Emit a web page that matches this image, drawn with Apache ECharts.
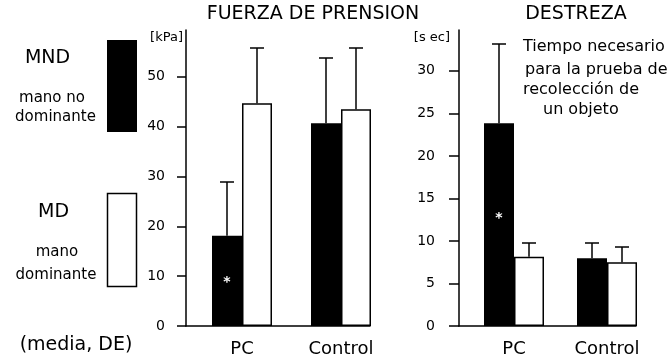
<!DOCTYPE html>
<html>
<head>
<meta charset="utf-8">
<script src="https://cdn.jsdelivr.net/npm/echarts@6/dist/echarts.min.js"></script>
<style>html,body{margin:0;padding:0;background:#fff}#c{width:672px;height:364px}</style>
</head>
<body>
<div id="c"></div>
<script>
// ---- data ----
const categories = ['PC', 'Control'];
// Fuerza de prensión [kPa] (media, DE)
const gripMND = [18.1, 40.7];
const gripMNDsd = [10.7, 13.1];
const gripMD = [44.7, 43.5];
const gripMDsd = [11.1, 12.3];
// Destreza [sec] (media, DE)
const dexMND = [23.85, 7.96];
const dexMNDsd = [9.35, 1.77];
const dexMD = [8.15, 7.49];
const dexMDsd = [1.58, 1.77];
// tick labels
const gripTicks = [0, 10, 20, 30, 40, 50];
const dexTicks = [0, 5, 10, 15, 20, 25, 30];
// significance marks (on MND PC bars)
const starGrip = '*';
const starDex = '*';

const FONT = 'DejaVu Sans';
const chart = echarts.init(document.getElementById('c'), null, {renderer: 'canvas'});

function errSeries(xi, yi, means, sds, side) {
  return {
    type: 'custom', xAxisIndex: xi, yAxisIndex: yi, z: 5, silent: true,
    data: means.map((m, i) => [i, m, m + sds[i]]),
    renderItem(params, api) {
      const b = api.coord([api.value(0), api.value(1)]);
      const t = api.coord([api.value(0), api.value(2)]);
      const x = Math.round(b[0] + side * 15);
      const ty = Math.round(t[1]);
      return {
        type: 'group',
        children: [
          {type: 'line', shape: {x1: x, y1: b[1], x2: x, y2: ty}, style: {stroke: '#000', lineWidth: 1.5}},
          {type: 'line', shape: {x1: x - 7, y1: ty, x2: x + 7, y2: ty}, style: {stroke: '#000', lineWidth: 1.5}}
        ]
      };
    }
  };
}

function starItem(v, txt, off) {
  return {value: v, label: {show: true, formatter: txt, position: 'inside', color: '#fff',
    fontFamily: FONT, fontSize: 14, fontWeight: 'bold', offset: off}};
}

const axisLineStyle = {show: true, lineStyle: {color: '#000', width: 1.5}};
function valueAxisFrame(grid, max, ticks, tickLen, margin, name, namePad) {
  return {
    type: 'value', gridIndex: grid, min: 0, max: max,
    axisLine: axisLineStyle,
    axisTick: {show: true, inside: false, length: tickLen, customValues: ticks, lineStyle: {color: '#000', width: 1.5}},
    axisLabel: {show: true, customValues: ticks, margin: margin, color: '#000', fontFamily: FONT, fontSize: 14},
    splitLine: {show: false},
    name: name, nameLocation: 'end', nameGap: -8,
    nameTextStyle: {fontFamily: FONT, fontSize: 13, color: '#000', align: 'right', verticalAlign: 'middle', padding: namePad}
  };
}
function hiddenValueAxis(grid, max) {
  return {type: 'value', gridIndex: grid, min: 0, max: max, show: false, splitLine: {show: false}};
}

const option = {
  animation: false,
  backgroundColor: '#fff',
  grid: [
    {left: 186, top: 30, width: 184, height: 296},   // frame grip
    {left: 192.5, top: 30, width: 198, height: 296}, // bars grip
    {left: 459, top: 30, width: 177, height: 296},   // frame dex
    {left: 467.5, top: 30, width: 186, height: 296}  // bars dex
  ],
  xAxis: [
    {type: 'category', gridIndex: 0, data: [''], axisLine: axisLineStyle, axisTick: {show: false}, axisLabel: {show: false}},
    {type: 'category', gridIndex: 1, data: categories, axisLine: {show: false}, axisTick: {show: false},
      axisLabel: {color: '#000', fontFamily: FONT, fontSize: 18, lineHeight: 18, margin: 14}},
    {type: 'category', gridIndex: 2, data: [''], axisLine: axisLineStyle, axisTick: {show: false}, axisLabel: {show: false}},
    {type: 'category', gridIndex: 3, data: categories, axisLine: {show: false}, axisTick: {show: false},
      axisLabel: {color: '#000', fontFamily: FONT, fontSize: 18, lineHeight: 18, margin: 14}}
  ],
  yAxis: [
    valueAxisFrame(0, 59.4, gripTicks, 9, 21, '[kPa]', [0, 3, 0, 0]),
    hiddenValueAxis(1, 59.4),
    valueAxisFrame(2, 34.8, dexTicks, 10, 24, '[s ec]', [0, 9, 0, 0]),
    hiddenValueAxis(3, 34.8)
  ],
  series: [
    {name: 'MND', type: 'bar', xAxisIndex: 1, yAxisIndex: 1, barWidth: 30, barGap: 0,
      itemStyle: {color: '#000'},
      data: gripMND.map((v, i) => i === 0 ? starItem(v, starGrip, [0, 1]) : v)},
    {name: 'MD', type: 'bar', xAxisIndex: 1, yAxisIndex: 1, barWidth: 30, barGap: 0,
      itemStyle: {color: '#fff', borderColor: '#000', borderWidth: 1.5},
      data: gripMD},
    errSeries(1, 1, gripMND, gripMNDsd, -1),
    errSeries(1, 1, gripMD, gripMDsd, 1),
    {name: 'MND', type: 'bar', xAxisIndex: 3, yAxisIndex: 3, barWidth: 30, barGap: 0,
      itemStyle: {color: '#000'},
      data: dexMND.map((v, i) => i === 0 ? starItem(v, starDex, [0, -6]) : v)},
    {name: 'MD', type: 'bar', xAxisIndex: 3, yAxisIndex: 3, barWidth: 30, barGap: 0,
      itemStyle: {color: '#fff', borderColor: '#000', borderWidth: 1.5},
      data: dexMD},
    errSeries(3, 3, dexMND, dexMNDsd, -1),
    errSeries(3, 3, dexMD, dexMDsd, 1)
  ],
  graphic: [
    // titles
    {type: 'text', x: 313, y: 14, style: {text: 'FUERZA DE PRENSION', font: '19px "DejaVu Sans"', fill: '#000', align: 'center', verticalAlign: 'middle'}},
    {type: 'text', x: 576, y: 14, style: {text: 'DESTREZA', font: '19px "DejaVu Sans"', fill: '#000', align: 'center', verticalAlign: 'middle'}},
    // annotation
    {type: 'text', x: 523, y: 47, style: {text: 'Tiempo necesario', font: '16px "DejaVu Sans"', fill: '#000', align: 'left', verticalAlign: 'middle'}},
    {type: 'text', x: 525, y: 70, style: {text: 'para la prueba de', font: '16px "DejaVu Sans"', fill: '#000', align: 'left', verticalAlign: 'middle'}},
    {type: 'text', x: 523, y: 90, style: {text: 'recolección de', font: '16px "DejaVu Sans"', fill: '#000', align: 'left', verticalAlign: 'middle'}},
    {type: 'text', x: 543, y: 110, style: {text: 'un objeto', font: '16px "DejaVu Sans"', fill: '#000', align: 'left', verticalAlign: 'middle'}},
    // legend
    {type: 'rect', shape: {x: 107, y: 40, width: 30, height: 92}, style: {fill: '#000'}},
    {type: 'rect', shape: {x: 107.5, y: 193.5, width: 29, height: 93}, style: {fill: '#fff', stroke: '#000', lineWidth: 1.5}},
    {type: 'text', x: 47.5, y: 58, style: {text: 'MND', font: '19px "DejaVu Sans"', fill: '#000', align: 'center', verticalAlign: 'middle'}},
    {type: 'text', x: 52, y: 98, style: {text: 'mano no', font: '15px "DejaVu Sans"', fill: '#000', align: 'center', verticalAlign: 'middle'}},
    {type: 'text', x: 55.5, y: 117, style: {text: 'dominante', font: '15px "DejaVu Sans"', fill: '#000', align: 'center', verticalAlign: 'middle'}},
    {type: 'text', x: 53.5, y: 212, style: {text: 'MD', font: '19px "DejaVu Sans"', fill: '#000', align: 'center', verticalAlign: 'middle'}},
    {type: 'text', x: 57, y: 252, style: {text: 'mano', font: '15px "DejaVu Sans"', fill: '#000', align: 'center', verticalAlign: 'middle'}},
    {type: 'text', x: 56, y: 275, style: {text: 'dominante', font: '15px "DejaVu Sans"', fill: '#000', align: 'center', verticalAlign: 'middle'}},
    {type: 'text', x: 76, y: 345, style: {text: '(media, DE)', font: '19px "DejaVu Sans"', fill: '#000', align: 'center', verticalAlign: 'middle'}}
  ]
};
chart.setOption(option);
</script>
</body>
</html>
